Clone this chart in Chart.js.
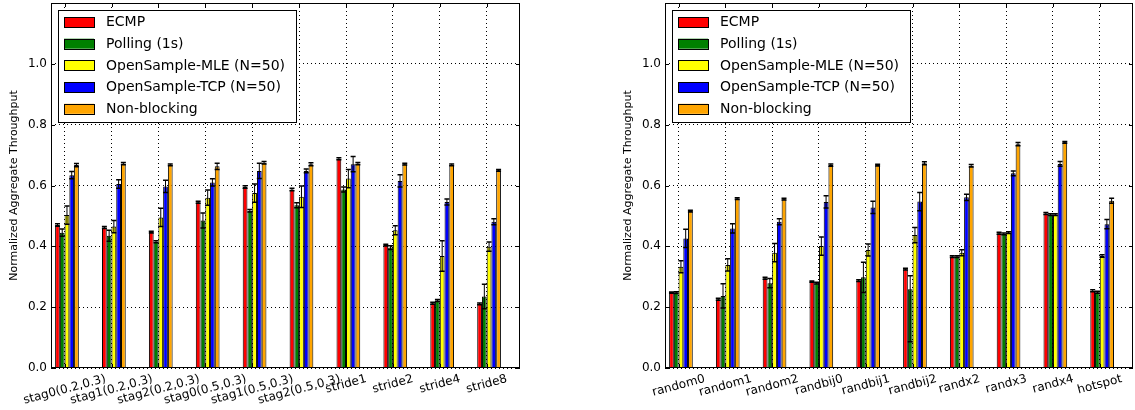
<!DOCTYPE html>
<html>
<head>
<meta charset="utf-8">
<script src="https://cdn.jsdelivr.net/npm/chart.js@4.4.0/dist/chart.umd.min.js"></script>
<style>
  body { margin: 0; background: #fff; }
  .box { position: absolute; top: 0; height: 410px; }
</style>
</head>
<body>
<div class="box" style="left:0;width:614px"><canvas id="leftChart"></canvas></div>
<div class="box" style="left:614px;width:521px"><canvas id="rightChart"></canvas></div>
<script>
// series
const seriesNames = ['ECMP', 'Polling (1s)', 'OpenSample-MLE (N=50)', 'OpenSample-TCP (N=50)', 'Non-blocking'];
const seriesColors = ['#ff0000', '#008000', '#ffff00', '#0000ff', '#ffa500'];

// left panel
const leftLabels = ['stag0(0.2,0.3)', 'stag1(0.2,0.3)', 'stag2(0.2,0.3)', 'stag0(0.5,0.3)', 'stag1(0.5,0.3)',
  'stag2(0.5,0.3)', 'stride1', 'stride2', 'stride4', 'stride8'];
const ecmpLeft = [0.470, 0.462, 0.447, 0.545, 0.595, 0.587, 0.688, 0.404, 0.213, 0.211];
const ecmpLeftErr = [0.004, 0.003, 0.003, 0.003, 0.004, 0.004, 0.003, 0.003, 0.003, 0.003];
const pollLeft = [0.445, 0.435, 0.415, 0.485, 0.517, 0.535, 0.587, 0.396, 0.222, 0.235];
const pollLeftErr = [0.012, 0.018, 0.003, 0.025, 0.004, 0.008, 0.008, 0.006, 0.003, 0.04];
const mleLeft = [0.503, 0.465, 0.495, 0.560, 0.575, 0.563, 0.623, 0.453, 0.368, 0.399];
const mleLeftErr = [0.03, 0.02, 0.03, 0.025, 0.03, 0.035, 0.03, 0.015, 0.05, 0.015];
const tcpLeft = [0.634, 0.605, 0.597, 0.610, 0.648, 0.648, 0.670, 0.615, 0.546, 0.481];
const tcpLeftErr = [0.012, 0.014, 0.02, 0.012, 0.025, 0.006, 0.025, 0.02, 0.01, 0.01];
const nbLeft = [0.667, 0.672, 0.668, 0.663, 0.675, 0.670, 0.672, 0.670, 0.668, 0.650];
const nbLeftErr = [0.005, 0.004, 0.003, 0.01, 0.004, 0.005, 0.004, 0.003, 0.003, 0.003];

// right panel
const rightLabels = ['random0', 'random1', 'random2', 'randbij0', 'randbij1', 'randbij2',
  'randx2', 'randx3', 'randx4', 'hotspot'];
const ecmpRight = [0.248, 0.226, 0.295, 0.284, 0.287, 0.325, 0.366, 0.443, 0.508, 0.254];
const ecmpRightErr = [0.002, 0.003, 0.003, 0.002, 0.003, 0.003, 0.003, 0.003, 0.003, 0.003];
const pollRight = [0.248, 0.237, 0.279, 0.279, 0.298, 0.259, 0.366, 0.441, 0.504, 0.249];
const pollRightErr = [0.003, 0.04, 0.015, 0.003, 0.05, [0.173, 0.044], 0.003, 0.003, 0.003, 0.003];
const mleRight = [0.333, 0.339, 0.379, 0.401, 0.388, 0.437, 0.379, 0.445, 0.504, 0.368];
const mleRightErr = [0.02, 0.02, 0.03, 0.03, 0.02, 0.025, 0.01, 0.003, 0.003, 0.004];
const tcpRight = [0.426, 0.459, 0.481, 0.546, 0.528, 0.547, 0.561, 0.640, 0.671, 0.473];
const tcpRightErr = [0.03, 0.015, 0.01, 0.02, 0.02, 0.03, 0.01, 0.008, 0.008, 0.015];
const nbRight = [0.516, 0.557, 0.555, 0.667, 0.667, 0.673, 0.665, 0.736, 0.742, 0.550];
const nbRightErr = [0.003, 0.003, 0.003, 0.004, 0.003, 0.005, 0.004, 0.005, 0.003, 0.008];

const yTitle = 'Normalized Aggregate Throughput';
const FONT = 'DejaVu Sans';

Chart.defaults.font.family = FONT;
Chart.defaults.color = '#000';

// error bars, frame, ticks, rotated labels, legend box
const decor = {
  id: 'decor',
  afterDatasetsDraw(chart) {
    const ctx = chart.ctx;
    const y = chart.scales.y;
    ctx.save();
    ctx.strokeStyle = '#000';
    chart.data.datasets.forEach((ds, d) => {
      if (!ds.errors) return;
      chart.getDatasetMeta(d).data.forEach((bar, i) => {
        const v = ds.data[i].y;
        if (v == null) return;
        const e = ds.errors[i];
        const lo = Array.isArray(e) ? e[0] : e;
        const hi = Array.isArray(e) ? e[1] : e;
        const top = y.getPixelForValue(v + hi);
        const bot = y.getPixelForValue(v - lo);
        ctx.lineWidth = 1;
        ctx.beginPath();
        ctx.moveTo(bar.x, top);
        ctx.lineTo(bar.x, bot);
        ctx.stroke();
        ctx.lineWidth = 1.5;
        ctx.beginPath();
        ctx.moveTo(bar.x - 2.5, top); ctx.lineTo(bar.x + 2.5, top);
        ctx.moveTo(bar.x - 2.5, bot); ctx.lineTo(bar.x + 2.5, bot);
        ctx.stroke();
      });
    });
    ctx.restore();
  },
  afterDraw(chart) {
    const ctx = chart.ctx;
    const ca = chart.chartArea;
    const xs = chart.scales.x;
    const ys = chart.scales.y;
    const labels = chart.config.options.catLabels;
    ctx.save();
    // frame
    ctx.strokeStyle = '#000';
    ctx.lineWidth = 1;
    ctx.strokeRect(ca.left + 0.5, ca.top + 0.5, ca.right - ca.left - 1, ca.bottom - ca.top - 1);
    // inward tick marks
    ctx.beginPath();
    xs.ticks.forEach(t => {
      const px = Math.round(xs.getPixelForValue(t.value)) + 0.5;
      ctx.moveTo(px, ca.top); ctx.lineTo(px, ca.top + 4);
      ctx.moveTo(px, ca.bottom); ctx.lineTo(px, ca.bottom - 4);
    });
    ys.ticks.forEach(t => {
      const py = Math.round(ys.getPixelForValue(t.value)) + 0.5;
      ctx.moveTo(ca.left, py); ctx.lineTo(ca.left + 4, py);
      ctx.moveTo(ca.right, py); ctx.lineTo(ca.right - 4, py);
    });
    ctx.stroke();
    // rotated category labels, centred on their tick
    const ang = 15 * Math.PI / 180;
    ctx.font = '12px "' + FONT + '"';
    ctx.fillStyle = '#000';
    ctx.textAlign = 'center';
    ctx.textBaseline = 'middle';
    labels.forEach((lab, i) => {
      const w = ctx.measureText(lab).width;
      const ext = w * Math.sin(ang) + 12 * Math.cos(ang);
      ctx.save();
      ctx.translate(xs.getPixelForValue(i), ca.bottom + 5 + ext / 2);
      ctx.rotate(-ang);
      ctx.fillText(lab, 0, 0);
      ctx.restore();
    });
    // legend
    const items = chart.data.datasets.filter(ds => ds.label);
    ctx.font = '14px "' + FONT + '"';
    const tw = Math.max(...items.map(ds => ctx.measureText(ds.label).width));
    const bx = ca.left + 7, by = ca.top + 7;
    const bw = 13 + 30 + 12 + tw + 4;
    const rowH = 21.7;
    const bh = 7 + rowH * (items.length - 1) + 10 + 8;
    ctx.fillStyle = '#fff';
    ctx.fillRect(bx, by, bw, bh);
    ctx.strokeRect(Math.round(bx) + 0.5, Math.round(by) + 0.5, Math.round(bw), Math.round(bh));
    ctx.textAlign = 'left';
    items.forEach((ds, k) => {
      const sy = by + 7 + k * rowH;
      ctx.fillStyle = ds.backgroundColor;
      ctx.fillRect(bx + 6, sy, 30, 10);
      ctx.strokeRect(Math.round(bx + 6) + 0.5, Math.round(sy) + 0.5, 30, 10);
      ctx.fillStyle = '#000';
      ctx.fillText(ds.label, bx + 6 + 30 + 12, sy + 5.5);
    });
    ctx.restore();
  }
};

function buildChart(id, labels, values, errors, padRight) {
  const datasets = [{ label: '', data: labels.map((_, i) => ({ x: i, y: null })), backgroundColor: 'rgba(0,0,0,0)' }];
  values.forEach((vals, k) => {
    datasets.push({
      label: seriesNames[k],
      data: vals.map((v, i) => ({ x: i, y: v })),
      errors: errors[k],
      backgroundColor: seriesColors[k],
      borderColor: '#000',
      borderWidth: 1,
    });
  });
  return new Chart(document.getElementById(id), {
    type: 'bar',
    data: { datasets },
    plugins: [decor],
    options: {
      catLabels: labels,
      responsive: true,
      maintainAspectRatio: false,
      animation: false,
      categoryPercentage: 0.607,
      barPercentage: 1,
      layout: { autoPadding: false, padding: { left: 0, right: padRight, top: 3, bottom: 0 } },
      plugins: { legend: { display: false }, tooltip: { enabled: false } },
      scales: {
        x: {
          type: 'linear',
          offset: false,
          min: -0.29,
          max: 9.71,
          afterBuildTicks: s => { s.ticks = labels.map((_, i) => ({ value: i })); },
          afterFit: s => { s.height = 42; s.paddingLeft = 0; s.paddingRight = 0; },
          ticks: { display: false },
          grid: { color: '#000', lineWidth: 1, drawTicks: false, offset: false },
          border: { display: false, dash: [1, 3] },
        },
        y: {
          min: 0,
          max: 1.2,
          afterFit: s => { s.width = 51; s.paddingTop = 0; s.paddingBottom = 0; },
          ticks: { stepSize: 0.2, padding: 4, color: '#000', font: { size: 12 },
            callback: v => v > 1.1 ? '' : v.toFixed(1) },
          grid: { color: '#000', lineWidth: 1, drawTicks: false },
          border: { display: false, dash: [1, 3] },
          title: { display: true, text: yTitle, color: '#000', font: { size: 11 }, padding: { top: 8, bottom: 0 } },
        },
      },
    },
  });
}

buildChart('leftChart', leftLabels,
  [ecmpLeft, pollLeft, mleLeft, tcpLeft, nbLeft],
  [ecmpLeftErr, pollLeftErr, mleLeftErr, tcpLeftErr, nbLeftErr], 94);
buildChart('rightChart', rightLabels,
  [ecmpRight, pollRight, mleRight, tcpRight, nbRight],
  [ecmpRightErr, pollRightErr, mleRightErr, tcpRightErr, nbRightErr], 2);
</script>
</body>
</html>
